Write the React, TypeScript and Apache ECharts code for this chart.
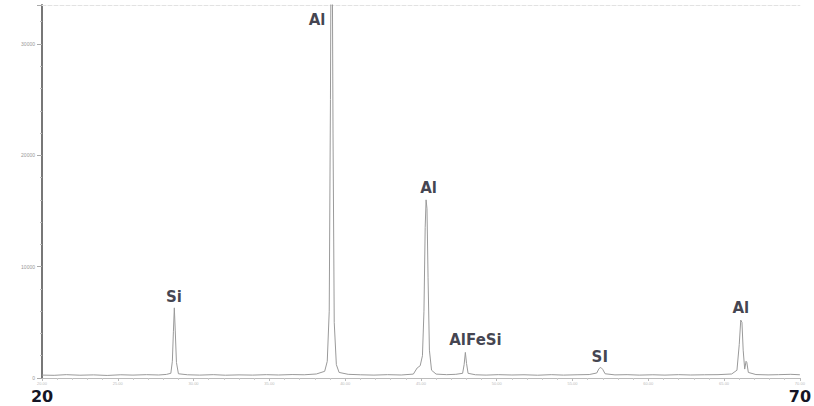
import React, { useEffect, useRef } from "react";
import * as echarts from "echarts";

// 2θ (degrees) vs intensity (counts)
const pattern: [number, number][] = [
  [20.0, 260], [20.8, 240], [21.6, 300], [22.5, 250], [23.4, 280], [24.3, 230], [25.2, 290], [26.0, 260],
  [26.9, 300], [27.7, 270], [28.2, 320],
  [28.5, 420], [28.6, 1500], [28.67, 4200], [28.73, 6300], [28.79, 4300], [28.87, 1400], [29.0, 380],
  [29.6, 290], [30.4, 260], [31.3, 300], [32.1, 250], [33.0, 280], [33.9, 260], [34.8, 300], [35.6, 270],
  [36.5, 310], [37.3, 290], [38.1, 360],
  [38.65, 600], [38.82, 1500], [38.95, 6000], [39.03, 25000], [39.08, 42000], [39.14, 41000], [39.2, 22000],
  [39.28, 5000], [39.42, 1200], [39.6, 500],
  [40.2, 330], [41.0, 290], [41.9, 260], [42.8, 300], [43.7, 270], [44.5, 350], [44.75, 900], [44.95, 1100],
  [45.1, 2000], [45.2, 6000], [45.28, 13500], [45.34, 16000], [45.4, 15200], [45.47, 9000], [45.56, 2500],
  [45.7, 700], [46.0, 350],
  [46.7, 300], [47.3, 330],
  [47.75, 420], [47.85, 1200], [47.93, 2300], [48.01, 1300], [48.11, 420],
  [48.6, 290], [49.3, 260], [50.1, 300], [51.0, 270], [51.8, 290], [52.7, 250], [53.6, 300], [54.4, 260],
  [55.3, 290], [56.1, 310],
  [56.6, 450], [56.75, 850], [56.87, 950], [56.99, 780], [57.15, 380],
  [57.8, 280], [58.6, 300], [59.4, 260], [60.3, 290], [61.1, 260], [62.0, 300], [62.8, 270], [63.7, 290],
  [64.6, 300], [65.5, 360],
  [65.85, 700], [66.0, 3000], [66.1, 5200], [66.18, 5000], [66.26, 2500], [66.36, 800], [66.45, 1500],
  [66.5, 1400], [66.6, 500],
  [67.1, 310], [67.9, 280], [68.6, 300], [69.4, 330], [70.0, 290],
];

// Phase labels: [2θ, intensity, text]
const phaseLabels: [number, number, string][] = [
  [38.15, 32150, "Al"],
  [28.7, 7270, "Si"],
  [45.5, 17060, "Al"],
  [48.6, 3410, "AlFeSi"],
  [56.8, 1890, "SI"],
  [66.1, 6290, "Al"],
];

const xMin = 20;
const xMax = 70;
const xStep = 5;
const yMax = 33500;
const yStep = 10000;
const bigXLabels = ["20", "70"];

export default function App() {
  const ref = useRef<HTMLDivElement>(null);
  useEffect(() => {
    if (!ref.current) return;
    const chart = echarts.init(ref.current, undefined, { renderer: "svg" });
    chart.setOption({
      animation: false,
      backgroundColor: "#fff",
      grid: { left: 42, right: 6, top: 5, bottom: 28, containLabel: false },
      xAxis: [
        {
          type: "value",
          min: xMin,
          max: xMax,
          interval: xStep,
          position: "bottom",
          axisLine: { show: true, lineStyle: { color: "#bbb", width: 1 } },
          axisTick: { show: true, length: 3, lineStyle: { color: "#bbb" } },
          minorTick: { show: true, splitNumber: 5, length: 2, lineStyle: { color: "#ccc" } },
          splitLine: { show: false },
          axisLabel: {
            fontSize: 4,
            color: "#bbb",
            margin: 3,
            formatter: (v: number) => v.toFixed(2),
          },
        },
        {
          type: "value",
          min: xMin,
          max: xMax,
          interval: xMax - xMin,
          position: "bottom",
          axisLine: { show: false },
          axisTick: { show: false },
          splitLine: { show: false },
          axisLabel: {
            show: true,
            margin: 10,
            fontSize: 16,
            fontWeight: "bold",
            fontFamily: "DejaVu Sans, sans-serif",
            color: "#151525",
            formatter: (v: number) => (v === xMin ? bigXLabels[0] : v === xMax ? bigXLabels[1] : ""),
          },
        },
        {
          type: "value",
          min: xMin,
          max: xMax,
          position: "top",
          axisLine: { show: true, lineStyle: { color: "#e2e2e2", type: "dashed", width: 1 } },
          axisTick: { show: false },
          splitLine: { show: false },
          axisLabel: { show: false },
        },
      ],
      yAxis: {
        type: "value",
        min: 0,
        max: yMax,
        interval: yStep,
        axisLine: { show: true, lineStyle: { color: "#777", width: 2 } },
        axisTick: { show: true, length: 5, lineStyle: { color: "#aaa" } },
        minorTick: { show: true, splitNumber: 5, length: 2, lineStyle: { color: "#bbb" } },
        splitLine: { show: false },
        axisLabel: {
          fontSize: 5,
          color: "#999",
          margin: 7,
          showMaxLabel: false,
          formatter: (v: number) => (v === 0 ? "0" : String(v)),
        },
      },
      series: [
        {
          type: "line",
          data: pattern,
          xAxisIndex: 0,
          showSymbol: false,
          symbol: "none",
          clip: true,
          lineStyle: { color: "#9a9a9a", width: 1 },
        },
        {
          type: "scatter",
          xAxisIndex: 0,
          data: phaseLabels.map((p) => ({ value: [p[0], p[1]], name: p[2] })),
          symbolSize: 0,
          label: {
            show: true,
            position: "inside",
            formatter: (p: any) => p.name,
            fontSize: 15,
            fontWeight: "bold",
            fontFamily: "DejaVu Sans, sans-serif",
            color: "#111122",
          },
        },
      ],
    });
    return () => chart.dispose();
  }, []);
  return (
    <div
      ref={ref}
      style={{ position: "fixed", left: 0, top: 0, width: 814, height: 406 }}
    />
  );
}
